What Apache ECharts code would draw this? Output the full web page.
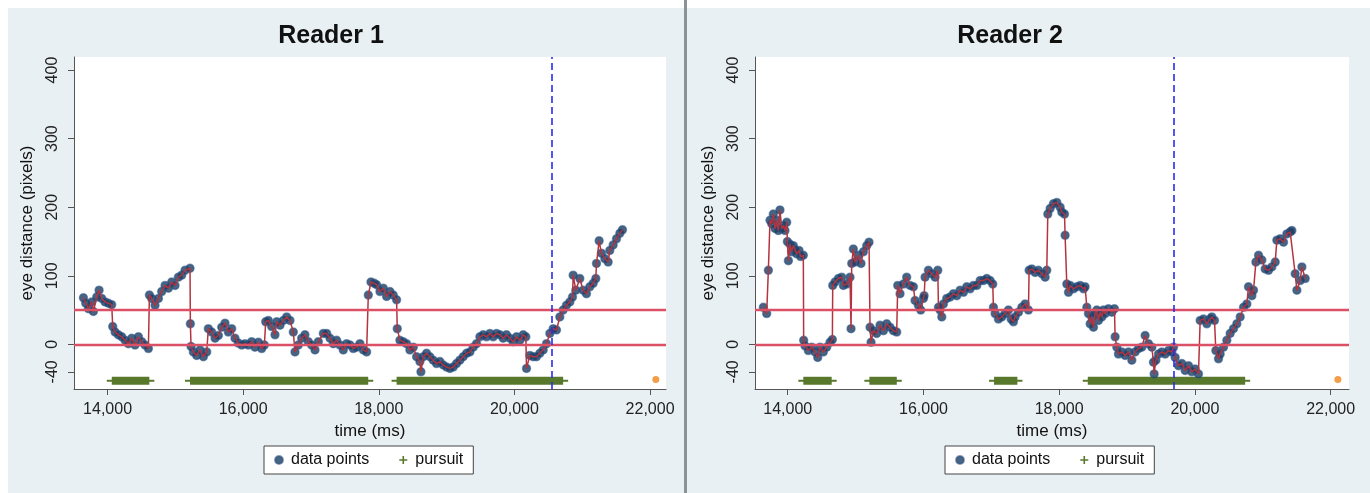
<!DOCTYPE html>
<html><head><meta charset="utf-8">
<script src="https://cdn.jsdelivr.net/npm/echarts@6/dist/echarts.min.js"></script>
<style>
html,body{margin:0;padding:0;background:#fff;}
#wrap{position:relative;width:1370px;height:493px;overflow:hidden;}
.panel{position:absolute;background:#e9f0f3;}
#sep{position:absolute;left:684px;top:0;width:3px;height:493px;background:#8d9296;}
#chart{position:absolute;left:0;top:0;width:1370px;height:493px;}
</style></head><body>
<div id="wrap">
<div class="panel" style="left:8px;top:8px;width:676px;height:485px"></div>
<div id="sep"></div>
<div class="panel" style="left:687px;top:8px;width:683px;height:485px"></div>
<div id="chart"></div>
</div>
<script>
// ---- data (time in ms, eye distance in pixels) ----
const r1Time = [13644,13678,13718,13767,13791,13840,13875,13914,13963,14012,14061,14076,14111,14160,14209,14258,14307,14356,14405,14455,14504,14553,14602,14617,14651,14700,14750,14798,14848,14897,14946,14995,15044,15093,15142,15216,15221,15231,15265,15314,15363,15413,15462,15486,15535,15585,15634,15683,15732,15781,15830,15879,15928,15978,
16027,16076,16125,16174,16224,16273,16312,16332,16371,16420,16469,16494,16543,16592,16641,16690,16739,16764,16813,16862,16911,16960,17010,17059,17108,17182,17231,17280,17329,17378,17427,17476,17526,17575,17624,17673,17722,17771,17820,17845,17884,17933,17968,18017,18066,18115,18164,18213,18262,18272,
18311,18360,18409,18458,18508,18557,18606,18621,18655,18704,18753,18802,18851,18901,18950,18999,19048,19097,19146,19195,19244,19294,19343,19392,19441,19490,19539,19588,19638,19687,19736,19785,19834,19883,19932,19981,20031,20080,20129,20168,20178,20227,20276,20325,20374,20424,20473,20522,20571,20620,20669,20718,20767,20817,20856,20866,20905,20964,21013,21062,21111,21161,21200,21210,21249,21283,21333,21382,21406,21456,21505,21554,21593];
const r1Dist = [68,60,52,62,48,69,79,67,62,60,58,26,18,14,11,6,1,9,-1,11,4,-1,-6,72,67,57,67,77,86,82,91,86,98,101,108,111,30,-3,-11,-16,-8,-18,-11,23,18,9,13,25,31,18,23,9,2,-1,
1,-1,4,-4,3,-6,-1,33,35,26,14,33,28,35,40,35,18,-11,-1,9,14,4,-1,-8,4,16,16,9,1,6,-1,-8,1,-1,-6,-4,1,-8,-11,72,91,89,87,77,82,70,77,72,65,23,
6,4,1,-8,-4,-18,-25,-40,-18,-13,-18,-23,-28,-25,-30,-33,-35,-33,-28,-23,-18,-13,-11,-4,1,11,14,11,16,11,16,14,9,14,9,4,11,6,14,11,-35,-16,-18,-18,-13,-8,1,16,23,21,40,50,57,62,69,101,79,96,79,74,84,89,96,118,151,133,125,120,137,145,154,162,167];

const r2Time = [13641,13690,13715,13739,13764,13788,13813,13837,13862,13886,13911,13936,13960,13985,13995,14010,14034,14058,14083,14108,14132,14167,14191,14230,14235,14255,14304,14353,14402,14442,14476,14525,14574,14623,14658,14663,14697,14746,14795,14820,14869,14918,14933,14943,14967,14992,15041,15080,15115,15164,15198,15213,15228,15262,15311,15360,15410,15459,15508,15557,15606,15621,15655,15704,15753,15803,15852,15876,15925,15960,15999,16010,
16024,16073,16122,16171,16211,16221,16245,16270,16294,16343,16392,16442,16491,16540,16589,16638,16687,16736,16786,16835,16884,16933,16982,17021,17031,17056,17105,17154,17203,17252,17292,17326,17351,17400,17449,17498,17547,17557,17596,17645,17694,17744,17793,17817,17832,17866,17915,17965,18014,18038,18078,18087,18112,18137,18161,18210,18259,18309,18358,
18382,18407,18431,18456,18480,18505,18529,18554,18579,18603,18628,18652,18677,18726,18775,18814,18824,18849,18873,18922,18972,19021,19070,19119,19168,19217,19266,19315,19365,19389,19399,19424,19463,19512,19561,19610,19659,19684,19709,19758,19807,19856,19905,19954,20003,20052,20077,20126,20175,20224,20249,20288,20308,20347,20372,20421,20470,20519,20568,20617,20667,20716,20765,20789,20839,20863,20898,20937,20986,21035,21084,21133,21183,21207,21256,21305,21354,21403,21428,21477,21502,21551,21576,21625];
const r2Dist = [54,45,108,181,176,190,169,181,166,196,169,173,166,178,150,122,146,135,144,138,132,137,128,130,6,-2,-9,-4,-11,-19,-4,-11,-4,3,7,86,91,96,98,86,88,98,23,118,139,120,130,118,135,144,149,25,3,20,16,28,20,30,25,20,18,86,74,88,98,86,84,64,57,50,67,71,
98,108,103,98,108,54,50,40,59,67,69,74,71,79,76,84,81,86,86,93,93,96,93,88,54,45,37,40,45,50,37,33,40,47,54,59,50,108,110,105,108,103,98,108,190,198,205,207,200,193,190,159,88,76,86,81,84,86,81,
84,54,45,30,40,25,45,50,35,47,40,50,45,52,47,52,11,-4,-14,-11,-16,-11,-23,-11,-6,-4,13,1,-4,-26,-43,-23,-14,-11,-14,-9,-11,-4,-19,-31,-28,-38,-31,-40,-36,-43,35,37,30,37,40,35,-9,-21,-14,-4,6,16,23,30,40,54,59,84,71,79,120,130,123,110,108,113,120,152,154,149,161,164,166,103,79,93,113,96];

const r1PursuitStart = [14062, 15216, 18262];
const r1PursuitEnd   = [14616, 17844, 20718];
const r2PursuitStart = [14230, 15203, 17040, 18421];
const r2PursuitEnd   = [14648, 15607, 17384, 20740];
const pursuitLevel = -53;
const thresholds = [0, 50];
const r1Marker = 20556;
const r2Marker = 19683;
const r1Outlier = [22085, -51];
const r2Outlier = [22106, -51];
const xTicks = [14000, 16000, 18000, 20000, 22000];
const yTicks = [-40, 0, 100, 200, 300, 400];
const titles = ['Reader 1', 'Reader 2'];

// ---- styling ----
const FONT = '"Liberation Sans", Arial, sans-serif';
const NAVY = '#1b3c62', RED = '#b3333f', GREEN = '#58792c';
const plusPath = 'path://M4,0H6V4H10V6H6V10H4V6H0V4H4Z';
const fmt = v => String(v).replace(/\B(?=(\d{3})+(?!\d))/g, ',');

const readers = [
  {t: r1Time, d: r1Dist, ps: r1PursuitStart, pe: r1PursuitEnd, m: r1Marker, o: r1Outlier},
  {t: r2Time, d: r2Dist, ps: r2PursuitStart, pe: r2PursuitEnd, m: r2Marker, o: r2Outlier}
];
const grids = [
  {left: 74, top: 57, width: 592, height: 332},
  {left: 755, top: 57, width: 594, height: 332}
];
const xRanges = [[13505, 22235], [13518, 22270]];

const series = [];
readers.forEach((r, i) => {
  const pts = r.t.map((t, k) => [t, r.d[k]]);
  series.push({
    type: 'line', name: 'refs', xAxisIndex: i, yAxisIndex: i, data: [], z: 1, silent: true,
    markLine: {
      silent: true, symbol: ['none', 'none'], label: {show: false}, animation: false,
      data: thresholds.map(v => ({yAxis: v, lineStyle: {color: '#dc5066', width: 2.4, type: 'solid'}}))
        .concat([{xAxis: r.m, lineStyle: {color: '#2b2bf0', width: 1.6, type: [7, 4]}}])
    }
  });
  series.push({
    type: 'scatter', name: 'data points', xAxisIndex: i, yAxisIndex: i, data: pts,
    symbolSize: 8, z: 3, silent: true, animation: false,
    itemStyle: {color: NAVY, borderColor: 'rgba(45,85,135,0.7)', borderWidth: 1.5}
  });
  series.push({
    type: 'line', name: 'trace', xAxisIndex: i, yAxisIndex: i, data: pts,
    symbol: 'none', z: 4, silent: true, animation: false,
    lineStyle: {color: RED, width: 1.5}
  });
  r.ps.forEach((s, k) => {
    series.push({
      type: 'line', name: 'pursuit', xAxisIndex: i, yAxisIndex: i,
      data: [[s, pursuitLevel], [r.pe[k], pursuitLevel]],
      symbol: 'rect', symbolSize: [10, 2], showSymbol: true, z: 3, silent: true, animation: false,
      color: GREEN, itemStyle: {color: GREEN},
      lineStyle: {color: GREEN, width: 8, cap: 'butt'}
    });
  });
  series.push({
    type: 'scatter', name: 'outlier', xAxisIndex: i, yAxisIndex: i, data: [r.o],
    symbolSize: 7, z: 3, silent: true, animation: false, itemStyle: {color: '#f0841c'}
  });
});

const option = {
  backgroundColor: 'transparent',
  animation: false,
  grid: grids.map(g => Object.assign({show: true, backgroundColor: '#fff', borderWidth: 0}, g)),
  xAxis: [0, 1].map(i => ({
    type: 'value', gridIndex: i, min: xRanges[i][0], max: xRanges[i][1],
    name: 'time (ms)', nameLocation: 'middle', nameGap: 32,
    nameTextStyle: {fontSize: 17, color: '#111', fontFamily: FONT},
    axisLine: {show: true, onZero: false, lineStyle: {color: '#555', width: 1}},
    axisTick: {show: true, length: 6, customValues: xTicks, lineStyle: {color: '#555'}},
    axisLabel: {customValues: xTicks, formatter: fmt, fontSize: 16, color: '#222', fontFamily: FONT, margin: 13},
    splitLine: {show: false}
  })),
  yAxis: [0, 1].map(i => ({
    type: 'value', gridIndex: i, min: -65, max: 419,
    name: 'eye distance (pixels)', nameLocation: 'middle', nameGap: 38,
    nameTextStyle: {fontSize: 17, color: '#111', fontFamily: FONT},
    axisLine: {show: true, onZero: false, lineStyle: {color: '#555', width: 1}},
    axisTick: {show: true, length: 6, customValues: yTicks, lineStyle: {color: '#555'}},
    axisLabel: {customValues: yTicks, rotate: 90, fontSize: 16, color: '#222', fontFamily: FONT, margin: 13},
    splitLine: {show: false}
  })),
  legend: [0, 1].map(i => ({
    data: [{name: 'data points', icon: 'circle'}, {name: 'pursuit', icon: plusPath}],
    left: [264, 945][i], top: 446, orient: 'horizontal',
    itemWidth: 8, itemHeight: 8, itemGap: 30, padding: [6, 10, 6, 10],
    backgroundColor: '#fff', borderColor: '#444', borderWidth: 1, borderRadius: 0,
    selectedMode: false,
    textStyle: {fontSize: 16, color: '#111', fontFamily: FONT, padding: [0, 0, 0, 3]}
  })),
  graphic: titles.map((t, i) => ({
    type: 'text', x: [331, 1010][i], y: 36, silent: true,
    style: {text: t, font: 'bold 25px "Liberation Sans", Arial, sans-serif', fill: '#111', align: 'center', verticalAlign: 'middle'}
  })),
  series: series
};

const chart = echarts.init(document.getElementById('chart'), null, {renderer: 'canvas'});
chart.setOption(option);
</script>
</body></html>
